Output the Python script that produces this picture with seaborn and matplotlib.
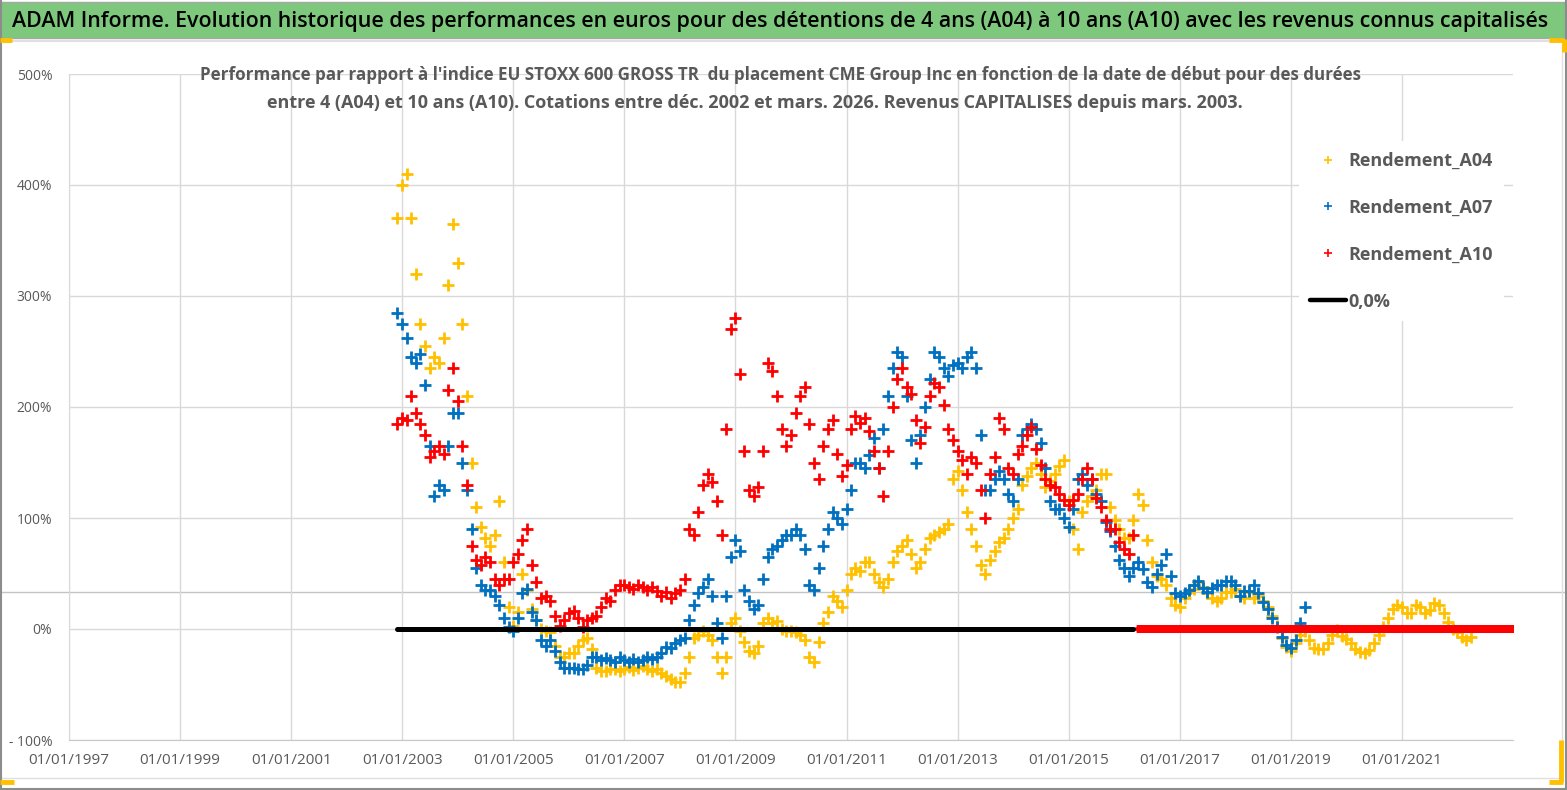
import matplotlib
matplotlib.use("Agg")
import matplotlib.pyplot as plt
from matplotlib import font_manager
from matplotlib.lines import Line2D
from matplotlib.patches import Rectangle
import seaborn as sns
import pandas as pd

# ---- data (monthly, in %) ----
a04_start = "2002-12-01"
a04_values = [
    370,
    400, 410, 370, 320, 275, 255, 235, 245, 240, 262, 310, 365,   # 2003
    330, 275, 210, 150, 110, 92, 82, 75, 85, 115, 60, 20,         # 2004
    3, 15, 50, 35, 18, 8, 0, -2, -3, -15, -25, -25,               # 2005
    -22, -22, -15, -10, -8, -18, -35, -38, -38, -36, -36, -38,    # 2006
    -36, -34, -37, -35, -33, -36, -38, -36, -40, -42, -45, -48,   # 2007
    -48, -40, -25, -8, -5, -2, -5, -10, -25, -40, -25, 5,         # 2008
    10, -2, -12, -20, -22, -15, 5, 10, 5, 7, 0, -2,               # 2009
    -2, -3, -5, -10, -25, -30, -12, 5, 15, 30, 25, 20,            # 2010
    35, 50, 55, 52, 60, 60, 50, 42, 38, 45, 60, 70,               # 2011
    75, 80, 68, 55, 60, 72, 82, 85, 87, 90, 95, 135,              # 2012
    142, 125, 105, 90, 75, 58, 50, 62, 70, 78, 82, 90,            # 2013
    100, 108, 130, 138, 145, 150, 140, 128, 133, 140, 147, 152,   # 2014
    115, 90, 72, 105, 115, 120, 125, 140, 140, 110, 98, 90,       # 2015
    82, 82, 98, 122, 112, 80, 60, 48, 45, 40, 28, 22,             # 2016
    20, 28, 33, 36, 42, 38, 32, 28, 25, 28, 33, 33,               # 2017
    36, 30, 28, 33, 28, 30, 25, 20, 12, 3, -8, -16,               # 2018
    -20, -13, -5, -2, -10, -17, -18, -18, -13, -5, -1, -6,        # 2019
    -9, -13, -18, -21, -22, -19, -13, -5, 2, 10, 18, 22,          # 2020
    20, 14, 14, 22, 20, 14, 17, 23, 22, 14, 6, 0,                 # 2021
    -3, -7, -10, -7,                                              # 2022
]

a07_start = "2002-12-01"
a07_values = [
    285,
    275, 262, 245, 240, 248, 220, 165, 120, 130, 125, 165, 195,   # 2003
    195, 150, 125, 90, 55, 40, 35, 35, 30, 22, 10, 2,             # 2004
    -2, 10, 32, 36, 15, 8, -10, -15, -10, -20, -30, -35,          # 2005
    -35, -35, -36, -36, -32, -25, -25, -28, -26, -28, -30, -25,   # 2006
    -28, -30, -27, -30, -28, -25, -27, -25, -22, -16, -17, -13,   # 2007
    -10, -8, 8, 22, 32, 38, 45, 30, 5, -8, 30, 65,                # 2008
    80, 70, 35, 25, 18, 22, 45, 65, 72, 75, 80, 85,               # 2009
    85, 90, 85, 72, 40, 35, 55, 75, 90, 105, 100, 95,             # 2010
    108, 125, 150, 150, 145, 157, 172, 145, 180, 210, 235, 250,   # 2011
    245, 210, 170, 150, 175, 200, 225, 250, 245, 235, 228, 238,   # 2012
    240, 235, 245, 250, 235, 175, 125, 125, 135, 142, 135, 122,   # 2013
    115, 135, 175, 180, 185, 180, 168, 145, 115, 108, 108, 100,   # 2014
    92, 108, 135, 140, 130, 135, 122, 115, 96, 88, 75, 62,        # 2015
    55, 48, 55, 60, 54, 42, 38, 50, 58, 68, 48, 32,               # 2016
    30, 32, 35, 40, 43, 37, 33, 37, 40, 40, 43, 43,               # 2017
    40, 30, 34, 34, 40, 32, 24, 18, 10, 2, -7, -14,               # 2018
    -17, -10, 5, 20,                                              # 2019
]

a10_start = "2002-12-01"
a10_values = [
    185,
    190, 188, 210, 195, 185, 175, 155, 160, 165, 158, 215, 235,   # 2003
    205, 165, 130, 75, 62, 58, 65, 60, 45, 40, 45, 45,            # 2004
    60, 68, 80, 90, 58, 42, 28, 30, 25, 12, 3, 8,                 # 2005
    14, 16, 10, 2, 8, 10, 12, 20, 28, 25, 35, 40,                 # 2006
    40, 38, 36, 40, 38, 35, 38, 34, 30, 33, 28, 32,               # 2007
    35, 45, 90, 85, 105, 130, 140, 132, 115, 85, 180, 270,        # 2008
    280, 230, 160, 125, 120, 128, 160, 240, 232, 210, 180, 165,   # 2009
    175, 195, 210, 218, 185, 150, 135, 165, 180, 188, 158, 138,   # 2010
    148, 180, 192, 186, 190, 178, 160, 145, 120, 160, 200, 225,   # 2011
    235, 218, 212, 188, 168, 182, 210, 222, 218, 202, 180, 170,   # 2012
    160, 152, 140, 155, 150, 125, 100, 140, 155, 190, 180, 145,   # 2013
    140, 158, 165, 175, 182, 162, 148, 135, 130, 128, 122, 116,   # 2014
    112, 116, 122, 135, 145, 135, 118, 110, 98, 90, 90, 78,       # 2015
    72, 68, 85,                                                   # 2016
]
# after its last quote the A10 series is plotted as zeros (daily) until end 2022
a10_zero_start = "2016-04-01"
a10_zero_end = "2022-12-31"

series_names = ["Rendement_A04", "Rendement_A07", "Rendement_A10"]
series_colors = ["#FFC000", "#0070C0", "#FF0000"]
zero_label = "0,0%"

x_tick_years = [1997, 1999, 2001, 2003, 2005, 2007, 2009, 2011, 2013, 2015, 2017, 2019, 2021]
y_ticks = [-100, 0, 100, 200, 300, 400, 500]
y_tick_labels = ["- 100%", "0%", "100%", "200%", "300%", "400%", "500%"]

title = ("ADAM Informe. Evolution historique des performances en euros pour des "
         "détentions de 4 ans (A04) à 10 ans (A10) avec les revenus connus capitalisés")
subtitle_1 = ("Performance par rapport à l'indice EU STOXX 600 GROSS TR  du placement CME "
              "Group Inc en fonction de la date de début pour des durées")
subtitle_2 = ("entre 4 (A04) et 10 ans (A10). Cotations entre déc. 2002 et mars. 2026. "
              "Revenus CAPITALISES depuis mars. 2003.")

# ---- build frames ----
def monthly(start, values):
    return pd.DataFrame({"date": pd.date_range(start, periods=len(values), freq="MS"),
                         "value": values})

df_a04 = monthly(a04_start, a04_values)
df_a07 = monthly(a07_start, a07_values)
df_a10 = monthly(a10_start, a10_values)
zero_dates = pd.date_range(a10_zero_start, a10_zero_end, freq="D")
df_a10_zero = pd.DataFrame({"date": zero_dates, "value": [0.0] * len(zero_dates)})

# ---- style ----
sns.set_style("white")
installed = {f.name for f in font_manager.fontManager.ttflist}
main_font = "Liberation Sans Narrow" if "Liberation Sans Narrow" in installed else "Open Sans"
plt.rcParams["font.family"] = [main_font, "DejaVu Sans"]
grey_text = "#595959"
grid_col = "#D9D9D9"

W, H = 1567, 790
fig = plt.figure(figsize=(W / 100, H / 100), dpi=100)
fig.patch.set_facecolor("white")

def fx(px):
    return px / W

def fy(py):
    return 1 - py / H

ax = fig.add_axes([fx(69), fy(740), fx(1513) - fx(69), fy(74) - fy(740)])
ax.set_facecolor("none")

# scatter series
for df, color in zip([df_a04, df_a07, df_a10], series_colors):
    sns.scatterplot(data=df, x="date", y="value", marker="+", s=75, linewidth=2.0,
                    color=color, ax=ax, zorder=3, legend=False)
sns.scatterplot(data=df_a10_zero, x="date", y="value", marker="+", s=40, linewidth=1.6,
                color=series_colors[2], ax=ax, zorder=3, legend=False)

# zero reference line over the A10 quote period
ax.plot([df_a10["date"].iloc[0], df_a10["date"].iloc[-1]], [0, 0], color="black",
        lw=3.6, solid_capstyle="round", zorder=4)

ax.set_xlim(pd.Timestamp("1997-01-01"), pd.Timestamp("2023-01-01"))
ax.set_ylim(-100, 500)
ax.set_xticks([pd.Timestamp(f"{y}-01-01") for y in x_tick_years])
ax.set_xticklabels([f"01/01/{y}" for y in x_tick_years], fontsize=11, color=grey_text)
ax.set_yticks(y_ticks)
ax.set_yticklabels(y_tick_labels, fontsize=10, color=grey_text)
ax.tick_params(axis="both", length=0)
ax.tick_params(axis="x", pad=9)
ax.tick_params(axis="y", pad=12)
ax.set_xlabel("")
ax.set_ylabel("")
ax.grid(True, color=grid_col, lw=1)
ax.set_axisbelow(True)
for side in ["top", "right"]:
    ax.spines[side].set_visible(False)
ax.spines["left"].set_color(grid_col)
ax.spines["bottom"].set_color("#C8C8C8")

# legend
handles = [Line2D([], [], ls="none", marker="+", markersize=6, markeredgewidth=1.2, color=c)
           for c in series_colors]
handles.append(Line2D([], [], color="black", lw=3.2))
leg = ax.legend(handles, series_names + [zero_label], loc="upper left",
                bbox_to_anchor=(fx(1290), fy(132)), bbox_transform=fig.transFigure,
                frameon=True, facecolor="white", edgecolor="none", framealpha=1,
                prop={"size": 13, "weight": "bold"}, labelspacing=1.6,
                handlelength=2.0, handletextpad=0.15, borderpad=0.6)
for t in leg.get_texts():
    t.set_color(grey_text)
leg.set_zorder(5)

# header band and frame
fig.add_artist(Rectangle((fx(0), fy(38)), fx(1565), fy(2) - fy(38), transform=fig.transFigure,
                         facecolor="#7DC87D", edgecolor="#A6A6A6", lw=1, zorder=1))
fig.add_artist(Line2D([fx(0), fx(1562)], [fy(41), fy(41)], color="#E0E0E0", lw=1.5))
fig.add_artist(Line2D([fx(1562), fx(1562)], [fy(41), fy(778)], color="#E0E0E0", lw=1))
fig.add_artist(Line2D([fx(0), fx(1562)], [fy(778), fy(778)], color="#E0E0E0", lw=1))
fig.add_artist(Line2D([fx(1565.5), fx(1565.5)], [fy(0), fy(790)], color="#8C8C8C", lw=1.5))
fig.add_artist(Line2D([fx(0), fx(1567)], [fy(788.5), fy(788.5)], color="#8C8C8C", lw=1.5))
fig.add_artist(Line2D([fx(0.5), fx(0.5)], [fy(0), fy(790)], color="#8C8C8C", lw=1.5))
# stray grey rule crossing the whole picture
fig.add_artist(Line2D([0, 1], [fy(592), fy(592)], color="#C4C4C4", lw=1, zorder=-1))
# yellow selection handles
handle_col = "#FFC000"
for xs, ys in [([0, 12], [40, 40]), ([1549, 1564], [39.5, 39.5]), ([1563.5, 1563.5], [39, 52]),
               ([1561, 1561], [740, 782]), ([1549, 1563], [782, 782]), ([0, 14], [782, 782])]:
    fig.add_artist(Line2D([fx(v) for v in xs], [fy(v) for v in ys], color=handle_col,
                          lw=3.5, solid_capstyle="butt"))

title_txt = fig.text(fx(12), fy(21), title, ha="left", va="center", fontsize=17,
                     fontweight="semibold", color="black", zorder=3)
sub1 = fig.text(fx(781), fy(75), subtitle_1, ha="center", va="center", fontsize=12,
                fontweight="bold", color=grey_text)
sub2 = fig.text(fx(755), fy(103), subtitle_2, ha="center", va="center", fontsize=12,
                fontweight="bold", color=grey_text)

# fit the header texts to the widths they take in the reference
fig.canvas.draw()
renderer = fig.canvas.get_renderer()
for txt, target in [(title_txt, 1538), (sub1, 1157), (sub2, 980)]:
    w = txt.get_window_extent(renderer).width
    txt.set_fontsize(txt.get_fontsize() * target / w)

fig.savefig("out.png", dpi=100, facecolor="white")
